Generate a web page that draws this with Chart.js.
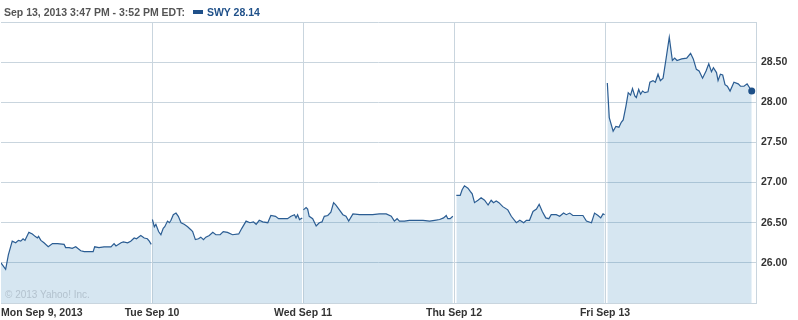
<!DOCTYPE html>
<html><head><meta charset="utf-8">
<script src="https://cdn.jsdelivr.net/npm/chart.js@4.4.0/dist/chart.umd.min.js"></script>
<style>
html,body{margin:0;padding:0;background:#fff;}
#wrap{position:relative;width:798px;height:320px;overflow:hidden;}
canvas{position:absolute;left:0;top:0;}
#hdr{position:absolute;left:4px;top:6px;font:bold 10.5px "Liberation Sans",Arial,sans-serif;color:#555;white-space:nowrap;line-height:13px;}
#hdr .sw{display:inline-block;width:10px;height:4px;background:#1f5089;vertical-align:middle;margin:0 4px 2px 8px;}
#hdr .lg{color:#1f5089;}
#copy{position:absolute;left:5px;top:289px;font:10px "Liberation Sans",Arial,sans-serif;color:#b3c2ce;white-space:nowrap;}
</style></head>
<body>
<div id="wrap">
<canvas id="c" width="798" height="320"></canvas>
<div id="hdr"><span id="ht"></span><span class="sw"></span><span class="lg" id="lg"></span></div>
<div id="copy">© 2013 Yahoo! Inc.</div>
</div>
<script>
// ---- data (minutes since Monday open, 390 trading minutes per day) ----
const symbol = 'SWY';
const headerText = 'Sep 13, 2013 3:47 PM - 3:52 PM EDT:';
const dayLabels = ['Mon Sep 9, 2013', 'Tue Sep 10', 'Wed Sep 11', 'Thu Sep 12', 'Fri Sep 13'];
const minutesPerDay = 390;
const yTickValues = [26.0, 26.5, 27.0, 27.5, 28.0, 28.5];

const monT = [0,12,19,29,38,45,51,57,62,72,81,88,94,97,103,111,122,133,146,163,167,176,184,193,206,215,228,238,242,253,266,284,292,297,310,316,327,335,344,350,355,361,370,378,383,388];
const monP = [26.00,25.92,26.10,26.27,26.25,26.28,26.27,26.30,26.28,26.38,26.36,26.33,26.31,26.33,26.28,26.25,26.20,26.24,26.24,26.23,26.19,26.19,26.18,26.20,26.15,26.14,26.14,26.14,26.20,26.19,26.20,26.20,26.24,26.21,26.25,26.26,26.25,26.27,26.31,26.30,26.32,26.34,26.31,26.30,26.27,26.23];

const tueT = [391,396,400,407,413,419,423,430,435,439,445,452,458,465,473,482,491,495,502,510,516,523,529,538,547,555,566,574,585,598,614,622,633,643,652,659,667,676,689,697,709,717,728,740,749,758,762,766,771,778];
const tueP = [26.54,26.45,26.48,26.39,26.35,26.43,26.45,26.52,26.50,26.53,26.60,26.62,26.58,26.50,26.48,26.45,26.41,26.39,26.29,26.30,26.32,26.29,26.32,26.34,26.38,26.35,26.35,26.39,26.38,26.35,26.36,26.43,26.52,26.50,26.51,26.48,26.53,26.51,26.50,26.59,26.58,26.55,26.55,26.55,26.58,26.60,26.56,26.60,26.54,26.56];

const wedT = [781,788,792,796,805,814,822,829,835,844,852,859,865,874,883,891,898,909,926,943,960,977,995,1008,1016,1023,1029,1042,1055,1072,1090,1107,1120,1133,1143,1150,1154,1160,1167];
const wedP = [26.66,26.69,26.67,26.58,26.55,26.46,26.50,26.51,26.58,26.59,26.63,26.75,26.72,26.66,26.60,26.58,26.52,26.61,26.60,26.60,26.60,26.61,26.61,26.58,26.52,26.55,26.52,26.52,26.53,26.53,26.53,26.52,26.53,26.54,26.56,26.59,26.55,26.55,26.58];

const thuT = [1176,1186,1191,1197,1206,1212,1217,1223,1232,1240,1249,1258,1266,1272,1279,1286,1296,1309,1318,1331,1340,1350,1357,1365,1374,1383,1390,1398,1407,1415,1421,1434,1443,1453,1460,1469,1477,1490,1503,1512,1525,1533,1542,1549,1555,1559];
const thuP = [26.84,26.84,26.91,26.96,26.93,26.89,26.86,26.75,26.78,26.81,26.78,26.72,26.78,26.75,26.77,26.75,26.70,26.66,26.58,26.50,26.53,26.50,26.53,26.53,26.64,26.67,26.73,26.64,26.56,26.55,26.60,26.60,26.58,26.62,26.60,26.62,26.59,26.59,26.59,26.52,26.50,26.62,26.59,26.56,26.61,26.60];

const friT = [1566,1571,1581,1588,1596,1602,1607,1614,1620,1626,1631,1637,1641,1647,1652,1657,1663,1671,1676,1684,1690,1697,1703,1710,1717,1726,1734,1740,1746,1758,1771,1781,1788,1796,1803,1812,1821,1828,1835,1840,1848,1852,1858,1864,1870,1876,1883,1893,1904,1910,1919,1927,1939];
const friP = [28.24,27.81,27.64,27.70,27.69,27.75,27.78,27.95,28.12,28.09,28.17,28.08,28.06,28.16,28.10,28.14,28.12,28.13,28.25,28.27,28.25,28.35,28.27,28.30,28.52,28.81,28.52,28.55,28.52,28.54,28.55,28.61,28.54,28.41,28.39,28.30,28.39,28.48,28.38,28.43,28.37,28.27,28.35,28.34,28.22,28.20,28.14,28.25,28.23,28.20,28.20,28.23,28.14];

// ---- build dataset with gaps between sessions ----
const days = [[monT, monP], [tueT, tueP], [wedT, wedP], [thuT, thuP], [friT, friP]];
const points = [];
days.forEach(([t, p], d) => {
  t.forEach((x, i) => points.push({x: x, y: p[i]}));
  if (d < days.length - 1) points.push({x: t[t.length - 1] + 1, y: null});
});
const lastIndex = points.length - 1;
const lastPrice = friP[friP.length - 1];

document.getElementById('ht').textContent = headerText;
document.getElementById('lg').textContent = symbol + ' ' + lastPrice.toFixed(2);

const gridColor = '#c9d5de';
const labelFont = {family: '"Liberation Sans", Arial, sans-serif', size: 10.5, weight: 'bold'};

new Chart(document.getElementById('c'), {
  type: 'line',
  data: {
    datasets: [{
      data: points,
      borderColor: '#2b5d93',
      borderWidth: 1.2,
      backgroundColor: 'rgba(50,130,185,0.2)',
      fill: 'start',
      tension: 0,
      spanGaps: false,
      pointRadius: ctx => ctx.dataIndex === lastIndex ? 3.5 : 0,
      pointBackgroundColor: '#1e5088',
      pointBorderWidth: 0,
      pointHoverRadius: 0
    }]
  },
  options: {
    responsive: false,
    animation: false,
    devicePixelRatio: 1,
    layout: {autoPadding: false, padding: {left: 1, top: 22, right: 0, bottom: 0}},
    plugins: {legend: {display: false}, tooltip: {enabled: false}},
    events: [],
    scales: {
      x: {
        type: 'linear',
        min: 0,
        max: minutesPerDay * dayLabels.length,
        afterBuildTicks: s => { s.ticks = dayLabels.concat(['']).map((_, i) => ({value: i * minutesPerDay})); },
        afterFit: s => { s.height = 17; s.paddingLeft = 0; s.paddingRight = 0; },
        grid: {
          color: ctx => ctx.index === 0 ? 'rgba(0,0,0,0)' : gridColor,
          lineWidth: 1,
          drawTicks: false
        },
        border: {display: true, color: gridColor},
        ticks: {
          autoSkip: false,
          maxRotation: 0,
          align: 'inner',
          padding: 4,
          color: '#333',
          font: labelFont,
          callback: (v, i) => dayLabels[i] !== undefined ? dayLabels[i] : ''
        }
      },
      y: {
        position: 'right',
        min: 25.5,
        max: 29.0,
        afterBuildTicks: s => { const t = []; for (let v = 25.5; v <= 29.001; v += 0.5) t.push({value: Math.round(v * 100) / 100}); s.ticks = t; },
        afterFit: s => { s.width = 42; },
        grid: {color: gridColor, lineWidth: 1, drawTicks: false},
        border: {display: true, color: gridColor},
        ticks: {
          padding: 5,
          color: '#333',
          font: labelFont,
          callback: v => yTickValues.some(t => Math.abs(t - v) < 1e-6) ? v.toFixed(2) : ''
        }
      }
    }
  }
});
</script>
</body></html>
